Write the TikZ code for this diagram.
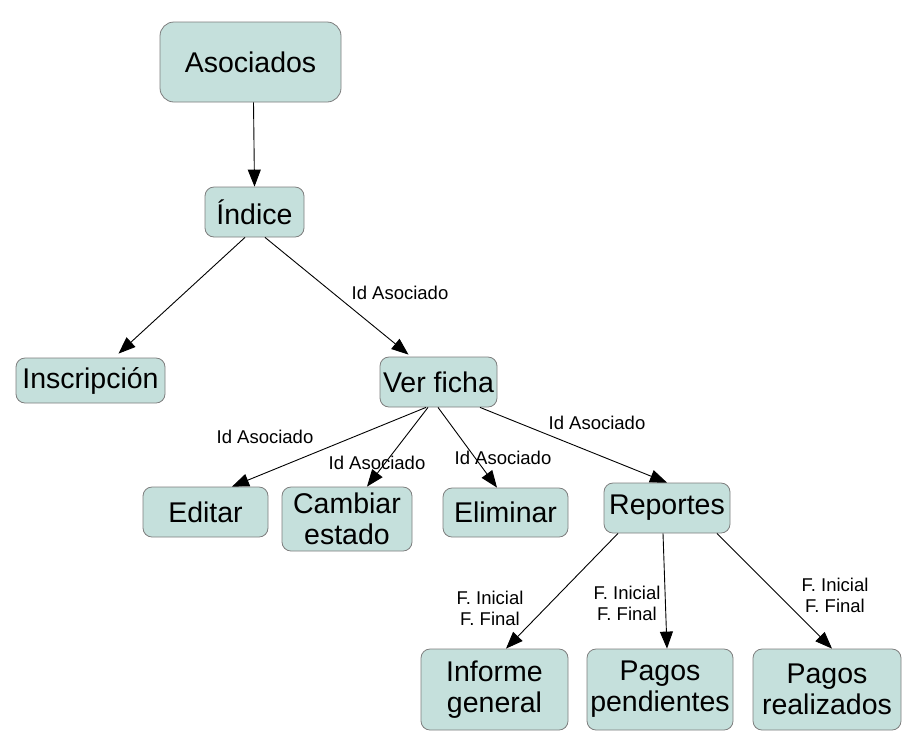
\documentclass[tikz,border=0pt]{standalone}
\usepackage{fontspec}
\setmainfont{Liberation Sans}
\usetikzlibrary{arrows.meta}
\definecolor{relleno}{RGB}{197,224,220}
\definecolor{borde}{RGB}{125,125,125}

\begin{document}
\begin{tikzpicture}[x=1pt,y=-1pt,
nodo/.style={draw=borde,fill=relleno,line width=0.8pt,rounded corners=9pt,align=center,inner sep=0pt,font=\fontsize{28.5}{31}\selectfont},
etiq/.style={align=center,inner sep=0pt,font=\fontsize{18.5}{21}\selectfont},
flecha/.style={-{Triangle[length=17pt,width=13pt]},line width=0.9pt}]
\useasboundingbox (0,0) rectangle (912,740);

\node[nodo,minimum width=181pt,minimum height=80pt,rounded corners=14pt] (aso) at (250.5,62) {Asociados};
\node[nodo,minimum width=99pt,minimum height=50pt] (ind) at (254.5,212) {Índice};
\node[nodo,minimum width=149pt,minimum height=45pt] (insc) at (90.5,380.5) {Inscripción};
\node[nodo,minimum width=117pt,minimum height=50pt] (vf) at (438.5,382) {Ver ficha};
\node[nodo,minimum width=125pt,minimum height=50pt] (edit) at (205.5,512) {Editar};
\node[nodo,minimum width=130pt,minimum height=64pt] (camb) at (347,519) {Cambiar\\estado};
\node[nodo,minimum width=125pt,minimum height=49pt] (elim) at (505.5,512.5) {Eliminar};
\node[nodo,minimum width=126pt,minimum height=50pt] (rep) at (667,508) {Reportes};
\node[nodo,minimum width=147pt,minimum height=81pt] (inf) at (494.5,689.5) {Informe\\general};
\node[nodo,minimum width=146pt,minimum height=81pt] (ppend) at (660,689.5) {Pagos\\pendientes};
\node[nodo,minimum width=148pt,minimum height=81pt] (preal) at (827,689.5) {Pagos\\realizados};

\draw[flecha] ([xshift=3pt]aso.south) -- (ind.north);
\draw[flecha] ([xshift=-9.5pt]ind.south) -- ([xshift=28pt,yshift=4pt]insc.north);
\draw[flecha] ([xshift=10.5pt]ind.south) -- ([xshift=-30pt,yshift=2pt]vf.north);
\draw[flecha] ([xshift=-12.5pt]vf.south) -- ([xshift=26.5pt]edit.north);
\draw[flecha] ([xshift=-10.5pt]vf.south) -- ([xshift=20pt]camb.north);
\draw[flecha] ([xshift=-0.5pt]vf.south) -- ([xshift=-8.5pt]elim.north);
\draw[flecha] ([xshift=41.5pt]vf.south) -- (rep.north);
\draw[flecha] ([xshift=-49pt]rep.south) -- ([xshift=11.5pt]inf.north);
\draw[flecha] ([xshift=-4pt]rep.south) -- ([xshift=7pt]ppend.north);
\draw[flecha] ([xshift=50pt]rep.south) -- ([xshift=5pt]preal.north);

\node[etiq] (l1) at (400,293) {Id Asociado};
\node[etiq] (l2) at (265,437) {Id Asociado};
\node[etiq] (l3) at (377,463) {Id Asociado};
\node[etiq] (l4) at (503,458) {Id Asociado};
\node[etiq] (l5) at (597,423) {Id Asociado};
\node[etiq] (l6) at (490,608) {F. Inicial\\F. Final};
\node[etiq] (l7) at (627,603) {F. Inicial\\F. Final};
\node[etiq] (l8) at (835,595) {F. Inicial\\F. Final};
\end{tikzpicture}
\end{document}
